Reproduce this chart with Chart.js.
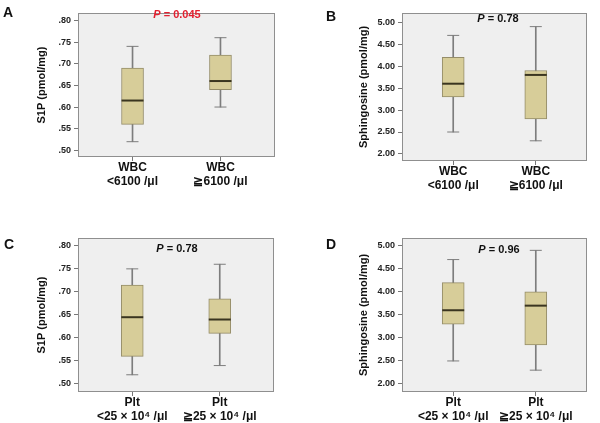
<!DOCTYPE html>
<html>
<head>
<meta charset="utf-8">
<script src="https://cdn.jsdelivr.net/npm/chart.js@4/dist/chart.umd.min.js"></script>
<style>
  html, body { margin: 0; padding: 0; background: #ffffff; }
  #wrap { position: relative; width: 600px; height: 423px; overflow: hidden; font-family: "Liberation Sans", Arial, sans-serif; }
  canvas { position: absolute; }
  .lbl { position: absolute; font-weight: bold; white-space: nowrap; transform: translate(-50%, -50%); line-height: 1; }
  .letter { font-size: 14px; color: #111; transform: translate(0, -50%); }
  .pval { font-size: 11px; color: #111; }
  .pval i { font-style: italic; }
  .red { color: #e3202f; }
</style>
</head>
<body>
<div id="wrap">
  <canvas id="cA" width="300" height="210" style="left:0;top:0;width:300px;height:210px"></canvas>
  <canvas id="cB" width="300" height="210" style="left:300px;top:0;width:300px;height:210px"></canvas>
  <canvas id="cC" width="300" height="213" style="left:0;top:210px;width:300px;height:213px"></canvas>
  <canvas id="cD" width="300" height="213" style="left:300px;top:210px;width:300px;height:213px"></canvas>

  <div class="lbl letter" style="left:3px;top:12px">A</div>
  <div class="lbl letter" style="left:326px;top:16px">B</div>
  <div class="lbl letter" style="left:4px;top:244px">C</div>
  <div class="lbl letter" style="left:326px;top:244px">D</div>

  <div class="lbl pval red" style="left:177px;top:14px"><i>P</i> = 0.045</div>
  <div class="lbl pval" style="left:498px;top:18px"><i>P</i> = 0.78</div>
  <div class="lbl pval" style="left:177px;top:248px"><i>P</i> = 0.78</div>
  <div class="lbl pval" style="left:499px;top:249px"><i>P</i> = 0.96</div>
</div>
<script>
// ---------- data ----------
const groupPositions = [1, 2];

const categoriesWBC = [['WBC', '<6100 /μl'], ['WBC', '≧6100 /μl']];
const categoriesPlt = [['Plt', '<25 × 10⁴ /μl'], ['Plt', '≧25 × 10⁴ /μl']];

const s1pTicks = [0.50, 0.55, 0.60, 0.65, 0.70, 0.75, 0.80];
const sphTicks = [2.00, 2.50, 3.00, 3.50, 4.00, 4.50, 5.00];

// Panel A: S1P by WBC
const aMin    = [0.52, 0.60];
const aQ1     = [0.56, 0.64];
const aMedian = [0.615, 0.66];
const aQ3     = [0.69, 0.72];
const aMax    = [0.74, 0.76];

// Panel B: Sphingosine by WBC
const bMin    = [2.50, 2.30];
const bQ1     = [3.30, 2.80];
const bMedian = [3.60, 3.80];
const bQ3     = [4.20, 3.90];
const bMax    = [4.70, 4.90];

// Panel C: S1P by Plt
const cMin    = [0.52, 0.54];
const cQ1     = [0.56, 0.61];
const cMedian = [0.645, 0.64];
const cQ3     = [0.715, 0.685];
const cMax    = [0.75, 0.76];

// Panel D: Sphingosine by Plt
const dMin    = [2.50, 2.30];
const dQ1     = [3.30, 2.85];
const dMedian = [3.60, 3.70];
const dQ3     = [4.20, 4.00];
const dMax    = [4.70, 4.90];

// ---------- styling ----------
const BOX_FILL = '#d7cd99';
const BOX_EDGE = '#958d69';
const MEDIAN_COLOR = '#3a3520';
const WHISKER_COLOR = '#7d7d7d';
const PLOT_BG = '#efefef';
const FRAME = '#8f8f8f';
const FONT = '"Liberation Sans", Arial, sans-serif';

const framePlugin = {
  id: 'frame',
  beforeDraw(chart) {
    const { ctx, chartArea: a } = chart;
    ctx.save();
    ctx.fillStyle = PLOT_BG;
    ctx.fillRect(a.left, a.top, a.right - a.left, a.bottom - a.top);
    ctx.restore();
  },
  afterDraw(chart) {
    const { ctx, chartArea: a } = chart;
    ctx.save();
    ctx.strokeStyle = FRAME;
    ctx.lineWidth = 1;
    ctx.strokeRect(Math.round(a.left) + 0.5, Math.round(a.top) + 0.5,
                   Math.round(a.right - a.left) - 1, Math.round(a.bottom - a.top) - 1);
    ctx.restore();
  }
};

function boxChart(id, p) {
  const pts = (arr) => groupPositions.map((x, i) => ({ x: x, y: arr[i] }));
  const ranges = (lo, hi) => groupPositions.map((x, i) => ({ x: x, y: [lo[i], hi[i]] }));
  const caps = groupPositions.map((x, i) => ({ x: x, y: p.min[i] }))
    .concat(groupPositions.map((x, i) => ({ x: x, y: p.max[i] })));

  return new Chart(document.getElementById(id), {
    type: 'bar',
    data: {
      datasets: [
        {
          type: 'scatter', label: 'median', data: pts(p.median), order: 0,
          pointStyle: 'line', radius: 11, borderWidth: 2, borderColor: MEDIAN_COLOR,
          backgroundColor: MEDIAN_COLOR, hoverRadius: 11
        },
        {
          type: 'bar', label: 'box', data: ranges(p.q1, p.q3), order: 1,
          backgroundColor: BOX_FILL, borderColor: BOX_EDGE, borderWidth: 1,
          borderSkipped: false, barThickness: 22, grouped: false
        },
        {
          type: 'scatter', label: 'caps', data: caps, order: 2,
          pointStyle: 'line', radius: 6, borderWidth: 1, borderColor: WHISKER_COLOR,
          backgroundColor: WHISKER_COLOR, hoverRadius: 6
        },
        {
          type: 'bar', label: 'whisker', data: ranges(p.min, p.max), order: 3,
          backgroundColor: WHISKER_COLOR, borderWidth: 0, barThickness: 1, grouped: false
        }
      ]
    },
    options: {
      responsive: false,
      animation: false,
      events: [],
      layout: { padding: p.padding },
      plugins: { legend: { display: false }, tooltip: { enabled: false } },
      scales: {
        x: {
          type: 'linear', min: 0.38, max: 2.62, offset: false,
          afterBuildTicks: (s) => { s.ticks = groupPositions.map(v => ({ value: v })); },
          afterFit: (s) => { s.height = 30; },
          grid: { drawOnChartArea: false, tickLength: 4, color: '#777', offset: false },
          border: { display: false },
          ticks: {
            autoSkip: false, maxRotation: 0, padding: 0, color: '#111',
            font: { family: FONT, size: 12, weight: 'bold', lineHeight: 1.17 },
            callback: (v) => p.categories[groupPositions.indexOf(v)]
          }
        },
        y: {
          type: 'linear', min: p.yMin, max: p.yMax,
          afterBuildTicks: (s) => { s.ticks = p.ticks.map(v => ({ value: v })); },
          afterFit: (s) => { s.width = p.yWidth; },
          grid: { drawOnChartArea: false, tickLength: 4, color: '#777' },
          border: { display: false },
          ticks: {
            padding: 3, color: '#222',
            font: { family: FONT, size: 9, weight: 'bold' },
            callback: p.tickFormat
          },
          title: {
            display: true, text: p.yTitle, color: '#111',
            padding: { top: 7, bottom: 0 },
            font: { family: FONT, size: 11, weight: 'bold', lineHeight: 1.2 }
          }
        }
      }
    },
    plugins: [framePlugin]
  });
}

const fmtS1P = (v) => v.toFixed(2).replace(/^0/, '');
const fmtSph = (v) => v.toFixed(2);

boxChart('cA', {
  min: aMin, q1: aQ1, median: aMedian, q3: aQ3, max: aMax,
  categories: categoriesWBC, ticks: s1pTicks, tickFormat: fmtS1P,
  yMin: 0.4847, yMax: 0.817, yTitle: 'S1P (pmol/mg)', yWidth: 50,
  padding: { left: 28, right: 25, top: 5, bottom: 23 }
});
boxChart('cB', {
  min: bMin, q1: bQ1, median: bMedian, q3: bQ3, max: bMax,
  categories: categoriesWBC, ticks: sphTicks, tickFormat: fmtSph,
  yMin: 1.84, yMax: 5.21, yTitle: 'Sphingosine (pmol/mg)', yWidth: 52,
  padding: { left: 50, right: 3, top: 6, bottom: 19 }
});
boxChart('cC', {
  min: cMin, q1: cQ1, median: cMedian, q3: cQ3, max: cMax,
  categories: categoriesPlt, ticks: s1pTicks, tickFormat: fmtS1P,
  yMin: 0.4826, yMax: 0.817, yTitle: 'S1P (pmol/mg)', yWidth: 50,
  padding: { left: 28, right: 26, top: 28, bottom: 1 }
});
boxChart('cD', {
  min: dMin, q1: dQ1, median: dMedian, q3: dQ3, max: dMax,
  categories: categoriesPlt, ticks: sphTicks, tickFormat: fmtSph,
  yMin: 1.826, yMax: 5.168, yTitle: 'Sphingosine (pmol/mg)', yWidth: 52,
  padding: { left: 50, right: 3, top: 28, bottom: 1 }
});
</script>
</body>
</html>
